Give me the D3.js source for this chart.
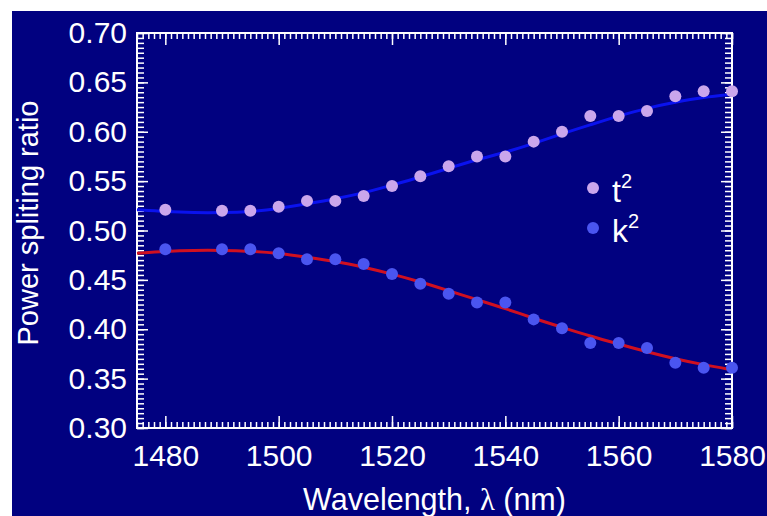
<!DOCTYPE html>
<html>
<head>
<meta charset="utf-8">
<script src="https://cdn.jsdelivr.net/npm/d3@7"></script>
<style>
  html, body { margin: 0; padding: 0; background: #fff; }
  svg { display: block; }
  text { font-family: "Liberation Sans", Arial, sans-serif; fill: #fff; }
</style>
</head>
<body>
<div id="chart"></div>
<script>
// measured points
const wavelengths = [1480, 1490, 1495, 1500, 1505, 1510, 1515, 1520, 1525, 1530,
                     1535, 1540, 1545, 1550, 1555, 1560, 1565, 1570, 1575, 1580];
const tSquared = [0.521, 0.520, 0.520, 0.524, 0.530, 0.530, 0.535, 0.545, 0.555, 0.565,
                  0.575, 0.575, 0.590, 0.600, 0.616, 0.616, 0.621, 0.636, 0.641, 0.641];
const kSquared = [0.481, 0.481, 0.481, 0.477, 0.471, 0.471, 0.466, 0.456, 0.446, 0.436,
                  0.427, 0.427, 0.410, 0.401, 0.386, 0.386, 0.381, 0.366, 0.361, 0.361];

// fitted curves
const fitWavelengths = [1475, 1480, 1485, 1490, 1495, 1500, 1505, 1510, 1515, 1520, 1525,
                        1530, 1535, 1540, 1545, 1550, 1555, 1560, 1565, 1570, 1575, 1580];
const tFit = [0.521, 0.519, 0.518, 0.518, 0.519, 0.522, 0.527, 0.532, 0.538, 0.546, 0.554,
              0.563, 0.572, 0.579, 0.588, 0.598, 0.607, 0.616, 0.624, 0.630, 0.635, 0.638];
const kFit = [0.477, 0.479, 0.480, 0.480, 0.479, 0.477, 0.473, 0.469, 0.463, 0.456, 0.448,
              0.439, 0.430, 0.421, 0.411, 0.402, 0.393, 0.385, 0.377, 0.370, 0.364, 0.359];

const xTicks = [1480, 1500, 1520, 1540, 1560, 1580];
const yTicks = [0.30, 0.35, 0.40, 0.45, 0.50, 0.55, 0.60, 0.65, 0.70];

const width = 767;
const height = 516;
const margin = { top: 33, right: 35, bottom: 88, left: 137 };
const bg = "#010180";

const svg = d3.select("#chart")
    .append("svg")
    .attr("width", width)
    .attr("height", height);

svg.append("rect")
    .attr("x", 12).attr("y", 11)
    .attr("width", width - 12).attr("height", height - 11)
    .attr("fill", bg);

const x = d3.scaleLinear()
    .domain([1475, 1580])
    .range([margin.left, width - margin.right]);

const y = d3.scaleLinear()
    .domain([0.30, 0.70])
    .range([height - margin.bottom, margin.top]);

const minorX = d3.range(1475, 1581, 1);
const minorY = d3.range(0, 81).map(i => 0.30 + i * 0.005);

function styleAxis(g) {
    g.select(".domain").remove();
    g.selectAll("line").attr("stroke", "#fff").attr("stroke-width", 1.5);
    g.selectAll("text")
        .attr("fill", "#fff")
        .style("font-size", "30px")
        .style("font-family", "'Liberation Sans', Arial, sans-serif");
}

const yBottom = height - margin.bottom;
const xRight = width - margin.right;

// bottom
svg.append("g").attr("transform", `translate(0,${yBottom})`)
    .call(d3.axisBottom(x).tickValues(minorX).tickSize(-6).tickFormat(""))
    .call(styleAxis);
svg.append("g").attr("transform", `translate(0,${yBottom})`)
    .call(d3.axisBottom(x).tickValues(xTicks).tickSize(-12).tickPadding(17).tickFormat(d3.format("d")))
    .call(styleAxis);
// top
svg.append("g").attr("transform", `translate(0,${margin.top})`)
    .call(d3.axisTop(x).tickValues(minorX).tickSize(-6).tickFormat(""))
    .call(styleAxis);
svg.append("g").attr("transform", `translate(0,${margin.top})`)
    .call(d3.axisTop(x).tickValues(xTicks).tickSize(-12).tickFormat(""))
    .call(styleAxis);
// left
svg.append("g").attr("transform", `translate(${margin.left},0)`)
    .call(d3.axisLeft(y).tickValues(minorY).tickSize(-7).tickFormat(""))
    .call(styleAxis);
svg.append("g").attr("transform", `translate(${margin.left},0)`)
    .call(d3.axisLeft(y).tickValues(yTicks).tickSize(-11).tickPadding(10).tickFormat(d3.format(".2f")))
    .call(styleAxis);
// right
svg.append("g").attr("transform", `translate(${xRight},0)`)
    .call(d3.axisRight(y).tickValues(minorY).tickSize(-7).tickFormat(""))
    .call(styleAxis);
svg.append("g").attr("transform", `translate(${xRight},0)`)
    .call(d3.axisRight(y).tickValues(yTicks).tickSize(-11).tickFormat(""))
    .call(styleAxis);

// frame
svg.append("rect")
    .attr("x", margin.left).attr("y", margin.top)
    .attr("width", xRight - margin.left).attr("height", yBottom - margin.top)
    .attr("fill", "none").attr("stroke", "#fff").attr("stroke-width", 2);

// fit lines
const line = d3.line()
    .x(d => x(d[0]))
    .y(d => y(d[1]))
    .curve(d3.curveBasis);

svg.append("path")
    .datum(fitWavelengths.map((w, i) => [w, tFit[i]]))
    .attr("d", line)
    .attr("fill", "none")
    .attr("stroke", "#0a12ee")
    .attr("stroke-width", 3);

svg.append("path")
    .datum(fitWavelengths.map((w, i) => [w, kFit[i]]))
    .attr("d", line)
    .attr("fill", "none")
    .attr("stroke", "#d01020")
    .attr("stroke-width", 3);

const tColor = "#caa6ec";
const kColor = "#4a55f0";

svg.append("g").selectAll("circle")
    .data(wavelengths.map((w, i) => [w, tSquared[i]]))
    .enter().append("circle")
    .attr("cx", d => x(d[0]))
    .attr("cy", d => y(d[1]))
    .attr("r", 6)
    .attr("fill", tColor);

svg.append("g").selectAll("circle")
    .data(wavelengths.map((w, i) => [w, kSquared[i]]))
    .enter().append("circle")
    .attr("cx", d => x(d[0]))
    .attr("cy", d => y(d[1]))
    .attr("r", 6)
    .attr("fill", kColor);

// legend
const legend = [["t", tColor, 188], ["k", kColor, 228]];
legend.forEach(([name, color, ly]) => {
    svg.append("circle").attr("cx", 593).attr("cy", ly).attr("r", 6).attr("fill", color);
    const t = svg.append("text")
        .attr("x", 612).attr("y", ly + 14)
        .style("font-size", "32px");
    t.append("tspan").text(name);
    t.append("tspan").attr("dy", -14).style("font-size", "20px").text("2");
});

// axis titles
const xt = svg.append("text")
    .attr("x", (margin.left + xRight) / 2)
    .attr("y", 510)
    .attr("text-anchor", "middle")
    .style("font-size", "30.5px");
xt.append("tspan").text("Wavelength, ");
xt.append("tspan").style("font-family", "'Liberation Serif', 'DejaVu Serif', serif").text("λ");
xt.append("tspan").text(" (nm)");

svg.append("text")
    .attr("transform", `translate(38,223) rotate(-90)`)
    .attr("text-anchor", "middle")
    .style("font-size", "29px")
    .text("Power spliting ratio");
</script>
</body>
</html>
